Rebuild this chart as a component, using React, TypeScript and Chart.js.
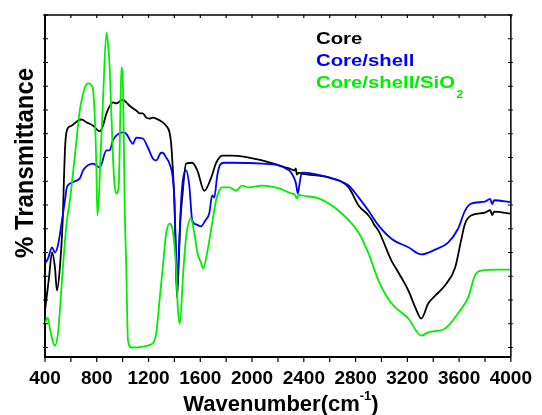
import React, { useEffect, useRef } from "react";
import { Chart, registerables } from "chart.js";

Chart.register(...registerables);

// ---- Data (wavenumber cm-1, transmittance a.u.) ----
const CORE_WN = [400, 431, 454, 477, 492, 515, 538, 546, 554, 562, 579, 605, 656, 682, 721, 772, 823, 848, 875, 925, 952, 977, 1002, 1028, 1054, 1105, 1131, 1156, 1182, 1208, 1233, 1259, 1310, 1336, 1362, 1375, 1387, 1400, 1412, 1420, 1431, 1446, 1462, 1490, 1538, 1577, 1631, 1685, 1723, 1769, 1846, 2077, 2285, 2331, 2338, 2346, 2362, 2385, 2592, 2746, 2823, 2900, 2930, 2938, 2977, 3077, 3131, 3208, 3262, 3308, 3362, 3415, 3492, 3569, 3615, 3646, 3692, 3800, 3840, 3855, 3870, 4000];
const CORE_T = [7.8, 14.7, 20.0, 16.8, 12.0, 16.8, 27.4, 35.2, 41.5, 44.6, 46.3, 46.7, 47.8, 48.0, 47.4, 46.7, 45.5, 46.7, 49.3, 51.6, 51.4, 51.8, 52.2, 51.6, 50.9, 49.9, 49.3, 49.3, 48.4, 48.2, 48.4, 48.2, 47.4, 46.7, 45.3, 42.9, 37.9, 30.9, 18.3, 10.5, 16.2, 26.7, 32.0, 38.7, 38.9, 37.3, 33.0, 35.8, 38.9, 40.4, 40.4, 39.4, 37.7, 37.3, 37.7, 36.4, 36.8, 36.6, 35.8, 33.7, 29.9, 27.8, 26.6, 26.1, 24.6, 18.3, 15.8, 12.0, 8.4, 6.1, 9.3, 10.9, 13.1, 16.8, 22.5, 26.1, 27.8, 28.4, 28.9, 27.9, 28.6, 28.2];

const SHELL_WN = [400, 423, 454, 477, 500, 531, 554, 567, 592, 669, 695, 772, 823, 875, 900, 925, 1002, 1028, 1079, 1105, 1156, 1195, 1233, 1259, 1298, 1310, 1336, 1362, 1387, 1400, 1412, 1420, 1431, 1452, 1465, 1490, 1515, 1538, 1569, 1605, 1638, 1669, 1692, 1708, 1731, 1754, 1784, 1823, 2077, 2285, 2323, 2338, 2354, 2365, 2385, 2592, 2746, 2823, 2900, 2977, 3077, 3208, 3308, 3415, 3515, 3592, 3646, 3692, 3800, 3840, 3855, 3870, 4000];
const SHELL_T = [17.7, 18.7, 21.1, 20.0, 21.5, 26.7, 30.9, 33.5, 34.5, 35.6, 37.3, 38.7, 37.9, 41.5, 41.5, 43.6, 45.3, 45.0, 42.9, 44.2, 44.0, 42.1, 39.8, 39.4, 41.0, 41.0, 40.0, 38.7, 35.8, 30.9, 19.4, 12.0, 18.3, 30.9, 35.2, 37.3, 34.1, 26.7, 25.9, 25.5, 26.7, 28.2, 32.0, 31.6, 36.2, 38.5, 38.9, 38.9, 38.7, 37.3, 35.8, 34.7, 32.4, 34.1, 36.8, 35.8, 34.1, 31.6, 28.8, 25.7, 22.9, 21.1, 19.6, 20.6, 22.1, 25.0, 28.8, 30.3, 30.7, 31.3, 30.2, 31.0, 30.6];

const SIO2_WN = [400, 421, 438, 462, 477, 500, 515, 538, 569, 592, 631, 669, 708, 733, 759, 772, 790, 797, 805, 815, 831, 848, 875, 887, 900, 923, 938, 952, 964, 972, 981, 990, 1002, 1010, 1015, 1028, 1041, 1067, 1231, 1246, 1259, 1285, 1310, 1336, 1362, 1387, 1413, 1427, 1442, 1469, 1492, 1528, 1554, 1579, 1605, 1623, 1656, 1695, 1721, 1746, 1769, 1823, 1877, 1923, 1977, 2077, 2208, 2308, 2331, 2346, 2362, 2385, 2515, 2669, 2823, 2900, 2977, 3077, 3208, 3308, 3362, 3492, 3592, 3669, 3723, 3769, 3900, 4000];
const SIO2_T = [5.1, 6.3, 4.0, 1.1, 0.4, 2.9, 7.8, 16.8, 26.7, 30.9, 40.4, 49.9, 54.7, 55.6, 55.2, 54.1, 45.0, 37.9, 27.8, 30.9, 41.5, 52.0, 66.3, 64.0, 58.9, 41.5, 34.1, 32.4, 33.0, 35.2, 47.8, 58.9, 55.6, 41.5, 30.9, 16.8, 1.5, 0.0, 0.8, 1.5, 2.9, 9.9, 16.8, 24.0, 26.1, 24.6, 16.8, 8.0, 5.0, 16.2, 23.6, 27.2, 24.0, 19.8, 17.9, 16.6, 20.4, 26.7, 30.9, 33.0, 33.7, 33.7, 33.0, 34.1, 33.7, 34.1, 33.5, 32.4, 32.2, 31.4, 32.2, 32.0, 31.4, 28.8, 24.2, 19.8, 14.1, 9.3, 6.1, 2.5, 3.2, 4.0, 7.2, 10.5, 15.2, 16.2, 16.4, 16.4];

const X_MIN = 400;
const X_MAX = 4000;
const X_STEP = 400;
const X_MINOR = 200;
const Y_MIN = -2;
const Y_MAX = 70;
const Y_STEP = 5;

const LEGEND = ["Core", "Core/shell", "Core/shell/SiO"];
const COLORS = ["#000000", "#0000ff", "#00ee00"];

const FONT = "'Liberation Sans', Arial, sans-serif";

const toPts = (xs: number[], ys: number[]) => xs.map((x, i) => ({ x, y: ys[i] }));

function drawScaled(ctx: CanvasRenderingContext2D, text: string, x: number, y: number, px: number, sx: number) {
  ctx.save();
  ctx.translate(x, y);
  ctx.scale(sx, 1);
  ctx.font = `bold ${px}px ${FONT}`;
  ctx.fillText(text, 0, 0);
  ctx.restore();
}

const decorPlugin = {
  id: "decor",
  afterDraw(chart: any) {
    const ctx: CanvasRenderingContext2D = chart.ctx;
    const { left, right, top, bottom } = chart.chartArea;
    const xs = chart.scales.x;
    const ys = chart.scales.y;
    ctx.save();
    ctx.strokeStyle = "#000";
    ctx.lineWidth = 1.5;
    ctx.beginPath();
    ctx.moveTo(left, top);
    ctx.lineTo(right, top);
    ctx.lineTo(right, bottom);
    ctx.stroke();
    // x ticks
    ctx.lineWidth = 1.2;
    ctx.beginPath();
    for (let v = X_MIN; v <= X_MAX; v += X_MINOR) {
      const p = xs.getPixelForValue(v);
      ctx.moveTo(p, bottom);
      ctx.lineTo(p, bottom + 5);
      ctx.moveTo(p, top);
      ctx.lineTo(p, top + 3);
    }
    for (let v = 0; v <= Y_MAX; v += Y_STEP) {
      const p = ys.getPixelForValue(v);
      ctx.moveTo(left - 2, p);
      ctx.lineTo(left + 3, p);
      ctx.moveTo(right - 3, p);
      ctx.lineTo(right + 2, p);
    }
    ctx.stroke();

    // legend
    ctx.textBaseline = "alphabetic";
    ctx.textAlign = "left";
    ctx.font = `bold 17px ${FONT}`;
    const sx = 139 / ctx.measureText(LEGEND[2]).width;
    const baselines = [44, 66, 88.3];
    LEGEND.forEach((t, i) => {
      ctx.fillStyle = COLORS[i];
      drawScaled(ctx, t, 316, baselines[i], 17, sx);
    });
    ctx.fillStyle = COLORS[2];
    drawScaled(ctx, "2", 456.5, 97.5, 11, 1.1);

    // x title
    ctx.fillStyle = "#000";
    ctx.font = `bold 22px ${FONT}`;
    const main = "Wavenumber(cm";
    const wMain = ctx.measureText(main).width;
    ctx.font = `bold 13px ${FONT}`;
    const sup = "-1";
    const wSup = ctx.measureText(sup).width;
    ctx.font = `bold 22px ${FONT}`;
    const wClose = ctx.measureText(")").width;
    const total = wMain + wSup + wClose;
    let x0 = 281 - total / 2;
    ctx.fillText(main, x0, 410.5);
    ctx.font = `bold 13px ${FONT}`;
    ctx.fillText(sup, x0 + wMain, 400);
    ctx.font = `bold 22px ${FONT}`;
    ctx.fillText(")", x0 + wMain + wSup, 410.5);

    // y title
    const yt = "% Transmittance";
    ctx.font = `bold 26px ${FONT}`;
    const wy = ctx.measureText(yt).width;
    const syy = 190 / wy;
    ctx.save();
    ctx.translate(32.7, 163);
    ctx.rotate(-Math.PI / 2);
    ctx.scale(syy, 1);
    ctx.textAlign = "center";
    ctx.fillText(yt, 0, 0);
    ctx.restore();

    ctx.restore();
  },
};

export default function App() {
  const ref = useRef<HTMLCanvasElement | null>(null);
  useEffect(() => {
    document.body.style.margin = "0";
    const canvas = ref.current;
    if (!canvas) return;
    const ds = [
      { label: LEGEND[2], data: toPts(SIO2_WN, SIO2_T), borderColor: COLORS[2] },
      { label: LEGEND[1], data: toPts(SHELL_WN, SHELL_T), borderColor: COLORS[1] },
      { label: LEGEND[0], data: toPts(CORE_WN, CORE_T), borderColor: COLORS[0] },
    ].map((d) => ({
      ...d,
      borderWidth: 1.8,
      pointRadius: 0,
      fill: false,
      cubicInterpolationMode: "monotone" as const,
    }));
    const chart = new Chart(canvas, {
      type: "line",
      data: { datasets: ds as any },
      options: {
        responsive: false,
        animation: false,
        layout: { padding: { top: 15, right: 29, left: 0, bottom: 0 } },
        plugins: { legend: { display: false }, tooltip: { enabled: false } },
        scales: {
          x: {
            type: "linear",
            min: X_MIN,
            max: X_MAX,
            grid: { display: false, drawTicks: false },
            border: { display: true, color: "#000", width: 2 },
            ticks: {
              stepSize: X_STEP,
              autoSkip: false,
              maxRotation: 0,
              padding: 10,
              color: "#000",
              font: { family: FONT, size: 19, weight: "bold" },
              callback: (v: any) => String(v),
            },
            afterFit: (s: any) => {
              s.height = 58;
            },
          },
          y: {
            type: "linear",
            min: Y_MIN,
            max: Y_MAX,
            grid: { display: false, drawTicks: false },
            border: { display: true, color: "#000", width: 2 },
            ticks: { display: false, stepSize: Y_STEP },
            afterFit: (s: any) => {
              s.width = 45;
            },
          },
        },
      },
      plugins: [decorPlugin],
    });
    return () => chart.destroy();
  }, []);
  return (
    <div style={{ width: 542, height: 415 }}>
      <canvas ref={ref} width={542} height={415} />
    </div>
  );
}
